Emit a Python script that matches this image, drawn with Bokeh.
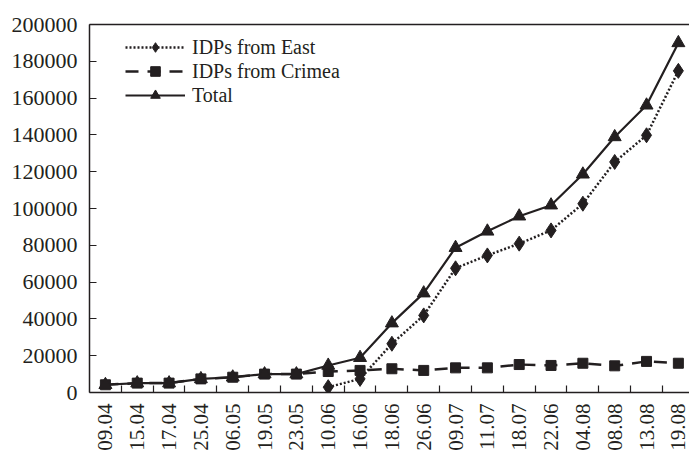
import numpy as np
from bokeh.plotting import figure
from bokeh.models import (ColumnDataSource, FixedTicker, LinearAxis, Range1d,
                          Legend, LegendItem)
from bokeh.embed import file_html
from bokeh.resources import INLINE

dates = ["09.04", "15.04", "17.04", "25.04", "06.05", "19.05", "23.05", "10.06",
         "16.06", "18.06", "26.06", "09.07", "11.07", "18.07", "22.06", "04.08",
         "08.08", "13.08", "19.08"]
east = [np.nan, np.nan, np.nan, np.nan, np.nan, np.nan, np.nan, 2900,
        7400, 26500, 41900, 67500, 74500, 80900, 88100, 102600,
        125300, 139800, 174800]
crimea = [4200, 5100, 5100, 7400, 8300, 10000, 10000, 11400,
          12000, 12900, 12000, 13400, 13400, 15200, 14700, 15900,
          14500, 16900, 15900]
total = [4200, 5100, 5100, 7400, 8300, 10000, 10000, 14700,
         18900, 37700, 54000, 78700, 87600, 95800, 101800, 118600,
         138900, 156100, 190000]
y_ticks = list(range(0, 200001, 20000))

FONT = "Liberation Serif"
INK = "#231f20"

x = list(range(len(dates)))
src = ColumnDataSource(dict(x=x, east=east, crimea=crimea, total=total))

p = figure(width=689, height=454, output_backend="svg", toolbar_location=None,
           x_range=Range1d(-0.5, 18.35), y_range=Range1d(0, 200000),
           min_border_left=89, min_border_top=24, min_border_right=0,
           min_border_bottom=62)
p.outline_line_color = None
p.grid.visible = False
p.background_fill_color = "white"
p.border_fill_color = "white"

# x axis
xa = p.xaxis[0]
xa.ticker = FixedTicker(ticks=x, minor_ticks=[i + 0.5 for i in x[:-1]])
xa.major_label_overrides = {i: d for i, d in zip(x, dates)}
xa.major_label_orientation = np.pi / 2
xa.major_tick_line_color = None
xa.minor_tick_in = 7
xa.minor_tick_out = 0
xa.minor_tick_line_color = INK
xa.minor_tick_line_width = 1.2
xa.axis_line_color = INK
xa.axis_line_width = 1.5
xa.major_label_text_font = FONT
xa.major_label_text_font_size = "21px"
xa.major_label_text_color = INK
xa.major_label_standoff = 5

# y axis
ya = p.yaxis[0]
ya.ticker = FixedTicker(ticks=y_ticks)
ya.major_tick_in = 7
ya.major_tick_out = 0
ya.minor_tick_line_color = None
ya.major_tick_line_color = INK
ya.major_tick_line_width = 1.2
ya.axis_line_color = INK
ya.axis_line_width = 1.5
ya.major_label_text_font = FONT
ya.major_label_text_font_size = "22px"
ya.major_label_text_color = INK
ya.major_label_standoff = 12
ya.formatter.use_scientific = False

# top border
top = LinearAxis(ticker=FixedTicker(ticks=[]), axis_line_color=INK,
                 axis_line_width=1.5, major_label_text_font_size="0px",
                 major_tick_line_color=None, minor_tick_line_color=None)
p.add_layout(top, "above")

l_e = p.line("x", "east", source=src, line_color=INK, line_width=2.5, line_dash="2 2")
m_e = p.scatter("x", "east", source=src, marker="diamond", size=15, color=INK)
l_c = p.line("x", "crimea", source=src, line_color=INK, line_width=2.5, line_dash="13 9")
m_c = p.scatter("x", "crimea", source=src, marker="square", size=10, color=INK)
l_t = p.line("x", "total", source=src, line_color=INK, line_width=2.2)
m_t = p.scatter("x", "total", source=src, marker="triangle", size=13, color=INK)

legend = Legend(items=[
    LegendItem(label="IDPs from East", renderers=[l_e, m_e]),
    LegendItem(label="IDPs from Crimea", renderers=[l_c, m_c]),
    LegendItem(label="Total", renderers=[l_t, m_t]),
], location=(36, 285))
legend.border_line_color = None
legend.background_fill_alpha = 0
legend.padding = 0
legend.margin = 0
legend.spacing = 0
legend.glyph_width = 60
legend.glyph_height = 24
legend.label_height = 24
legend.label_standoff = 7
legend.label_text_font = FONT
legend.label_text_font_size = "20px"
legend.label_text_color = INK
legend.label_text_baseline = "middle"
p.add_layout(legend, "center")

open("out.html", "w").write(file_html(p, INLINE))
